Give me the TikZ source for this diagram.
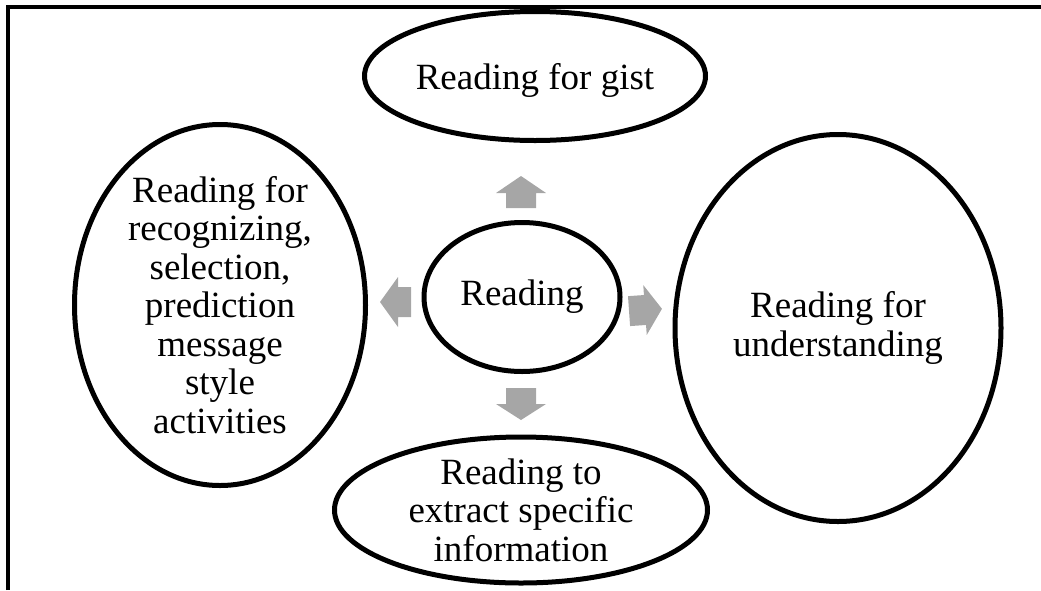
\documentclass[tikz,border=0pt]{standalone}
\usepackage{fontspec}
\setmainfont{Liberation Serif}
\usetikzlibrary{shapes.geometric}
\definecolor{arrowgray}{HTML}{A6A6A6}
\begin{document}
\begin{tikzpicture}[x=1pt,y=-1pt,
  oval/.style={draw=black, line width=5pt, ellipse, inner sep=0pt, fill=white},
  txt/.style={align=center, inner sep=0pt, font=\fontsize{37}{38.5}\selectfont},
  grayarrow/.style={fill=arrowgray, draw=none}]
\useasboundingbox (0,0) rectangle (1041,590);
% frame
\draw[line width=3.5pt] (8,590) -- (8,7) -- (1041,7);
% ellipses
\node[oval, minimum width=341pt, minimum height=129pt] (gist) at (535,76) {};
\node[txt] (gistT) at ([yshift=-4pt]gist.center) {Reading for gist};
\node[oval, minimum width=196pt, minimum height=149pt] (read) at (522,297) {};
\node[txt] (readT) at (read.center) {Reading};
\node[oval, minimum width=291pt, minimum height=361pt] (left) at (220,305) {};
\node[txt] (leftT) at (left.center) {Reading for\\recognizing,\\selection,\\prediction\\message\\style\\activities};
\node[oval, minimum width=326pt, minimum height=387pt] (right) at (838,328) {};
\node[txt] (rightT) at (right.center) {Reading for\\understanding};
\node[oval, minimum width=373pt, minimum height=146pt] (bottom) at (521,510) {};
\node[txt] (bottomT) at (bottom.center) {Reading to\\extract specific\\information};
% gray block arrows
\fill[grayarrow] (521,176) -- (546,193) -- (536,193) -- (536,208) -- (506,208) -- (506,193) -- (496,193) -- cycle;
\fill[grayarrow] (521,420) -- (546,404) -- (536,404) -- (536,388) -- (506,388) -- (506,404) -- (496,404) -- cycle;
\fill[grayarrow] (380,302) -- (398,277) -- (398,287) -- (411,287) -- (411,317) -- (398,317) -- (398,327) -- cycle;
\fill[grayarrow, rotate around={4:(645,310)}] (662,310) -- (645,285) -- (645,295) -- (629,295) -- (629,325) -- (645,325) -- (645,335) -- cycle;
\end{tikzpicture}
\end{document}
